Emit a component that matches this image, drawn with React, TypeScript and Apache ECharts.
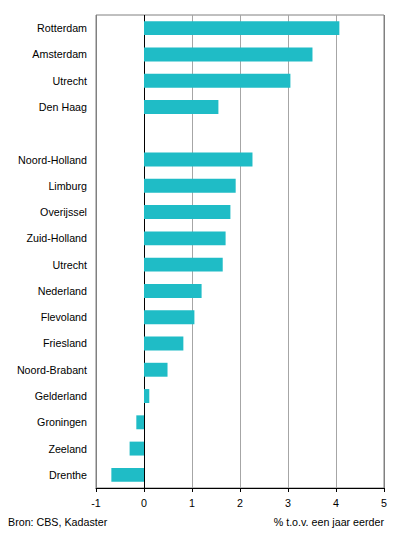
import React, { useEffect, useRef } from "react";
import * as echarts from "echarts";

const categories = [
  "Rotterdam", "Amsterdam", "Utrecht", "Den Haag", "",
  "Noord-Holland", "Limburg", "Overijssel", "Zuid-Holland", "Utrecht",
  "Nederland", "Flevoland", "Friesland", "Noord-Brabant", "Gelderland",
  "Groningen", "Zeeland", "Drenthe",
];
const values: (number | null)[] = [
  4.07, 3.51, 3.05, 1.55, null,
  2.26, 1.91, 1.80, 1.70, 1.64,
  1.20, 1.05, 0.82, 0.49, 0.11,
  -0.16, -0.30, -0.68,
];
const sourceText = "Bron: CBS, Kadaster";
const unitText = "% t.o.v. een jaar eerder";

const FONT = "'Liberation Sans', Arial, sans-serif";
const FS = 10.7;

export default function App() {
  const ref = useRef<HTMLDivElement>(null);
  useEffect(() => {
    if (!ref.current) return;
    const chart = echarts.init(ref.current, undefined, { renderer: "svg" });
    chart.setOption({
      animation: false,
      backgroundColor: "#ffffff",
      grid: {
        left: 96,
        top: 15,
        width: 288,
        height: 473,
        show: true,
        borderColor: "#808080",
        borderWidth: 1,
        containLabel: false,
      },
      xAxis: {
        type: "value",
        min: -1,
        max: 5,
        interval: 1,
        axisLine: { show: true, onZero: false, lineStyle: { color: "#000", width: 1 } },
        axisTick: { show: true, length: 4, lineStyle: { color: "#000" } },
        axisLabel: { color: "#000", fontSize: FS, fontFamily: FONT, margin: 9 },
        splitLine: {
          show: true,
          lineStyle: {
            color: ["#808080", "#000000", "#a6a6a6", "#a6a6a6", "#a6a6a6", "#a6a6a6", "#808080"],
            width: 1,
          },
        },
      },
      yAxis: {
        type: "category",
        inverse: true,
        data: categories,
        axisLine: { show: false, onZero: false },
        axisTick: { show: false },
        axisLabel: { color: "#000", fontSize: FS, fontFamily: FONT, margin: 9, interval: 0 },
        splitLine: { show: false },
      },
      series: [
        {
          type: "bar",
          data: values,
          barWidth: "53%",
          itemStyle: { color: "#1fbcc6" },
          silent: true,
        },
      ],
      graphic: [
        {
          type: "text",
          left: 8,
          top: 516,
          style: { text: sourceText, fill: "#000", font: `${FS}px ${FONT}` },
        },
        {
          type: "text",
          right: 12,
          top: 516,
          style: { text: unitText, fill: "#000", font: `${FS}px ${FONT}` },
        },
      ],
    });
    return () => chart.dispose();
  }, []);
  return (
    <div
      ref={ref}
      style={{ position: "fixed", left: 0, top: 0, width: 396, height: 536 }}
    />
  );
}
